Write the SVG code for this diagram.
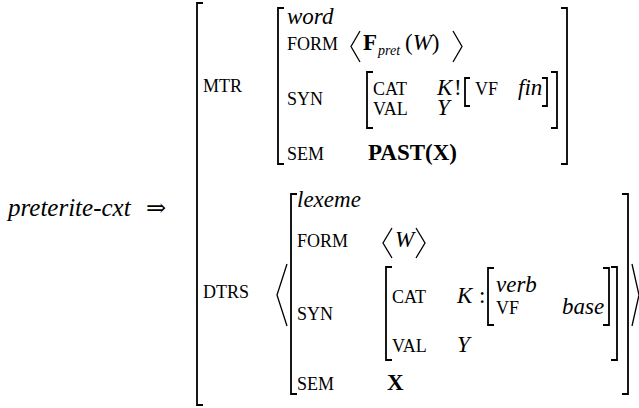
<svg xmlns="http://www.w3.org/2000/svg" width="639" height="408" viewBox="0 0 639 408" font-family="'Liberation Serif', 'Times New Roman', 'DejaVu Serif', serif">
<style>
text{font-family:'Liberation Serif','Times New Roman','DejaVu Serif',serif;fill:#000}
.lab{font-size:18px}
.it{font-size:23px;font-style:italic}
.bd{font-size:23px;font-weight:bold}
.rm{font-size:23px}
.sub{font-size:14px;font-style:italic}
.br{fill:none;stroke:#000;stroke-width:1.8}
.ang{fill:none;stroke:#000;stroke-width:1.3;stroke-linejoin:miter}
</style>
<rect width="639" height="408" fill="#fff"/>
<g id="head">
<text class="it" x="8" y="216" style="font-size:25px">preterite-cxt</text>
<text class="rm" x="146" y="216" style="font-size:24px">⇒</text>
</g>
<g id="outer">
<path class="br" d="M203,3 H197 V405 H203"/>
<text class="lab" x="203" y="92">MTR</text>
<text class="lab" x="203" y="298">DTRS</text>
</g>
<g id="mtr">
<path class="br" d="M284,8 H278 V164 H284"/>
<path class="br" d="M561,8 H567 V164 H561"/>
<text class="it" x="287" y="24">word</text>
<text class="lab" x="287" y="50">FORM</text>
<path class="ang" d="M360,31 L351,46.5 L360,62"/>
<text class="bd" x="363" y="50">F</text>
<text class="sub" x="378" y="55">pret</text>
<text class="rm" x="405" y="50">(<tspan font-style="italic">W</tspan>)</text>
<path class="ang" d="M453,31 L462,46.5 L453,62"/>
<text class="lab" x="287" y="105">SYN</text>
<path class="br" d="M373,72 H367 V128 H373"/>
<path class="br" d="M551,72 H557 V128 H551"/>
<text class="lab" x="373" y="95">CAT</text>
<text class="it" x="437" y="95">K</text>
<text class="rm" x="454" y="95">!</text>
<path class="br" d="M470,78 H465 V106 H470"/>
<path class="br" d="M542,78 H547 V106 H542"/>
<text class="lab" x="475" y="95">VF</text>
<text class="it" x="518" y="95">fin</text>
<text class="lab" x="373" y="115">VAL</text>
<text class="it" x="437" y="115">Y</text>
<text class="lab" x="287" y="160">SEM</text>
<text class="bd" x="368" y="160">PAST(X)</text>
</g>
<g id="dtrs">
<path class="ang" d="M287,264 L277,295 L287,326"/>
<path class="ang" d="M632,264 L639,295 L632,326"/>
<path class="br" d="M297,194 H291 V394 H297"/>
<path class="br" d="M622,194 H628 V394 H622"/>
<text class="it" x="297" y="207">lexeme</text>
<text class="lab" x="297" y="247">FORM</text>
<path class="ang" d="M392,228 L383,243 L392,258"/>
<text class="it" x="395" y="247">W</text>
<path class="ang" d="M416,228 L425,243 L416,258"/>
<text class="lab" x="297" y="320">SYN</text>
<path class="br" d="M392,267 H386 V360 H392"/>
<path class="br" d="M611,267 H617 V360 H611"/>
<text class="lab" x="392" y="303">CAT</text>
<text class="it" x="457" y="303">K</text>
<text class="rm" x="479" y="303">:</text>
<path class="br" d="M494,268 H488 V325 H494"/>
<path class="br" d="M603,268 H609 V325 H603"/>
<text class="it" x="496" y="292">verb</text>
<text class="lab" x="496" y="314">VF</text>
<text class="it" x="562" y="314">base</text>
<text class="lab" x="392" y="352">VAL</text>
<text class="it" x="457" y="352">Y</text>
<text class="lab" x="297" y="390">SEM</text>
<text class="bd" x="387" y="390">X</text>
</g>
</svg>
